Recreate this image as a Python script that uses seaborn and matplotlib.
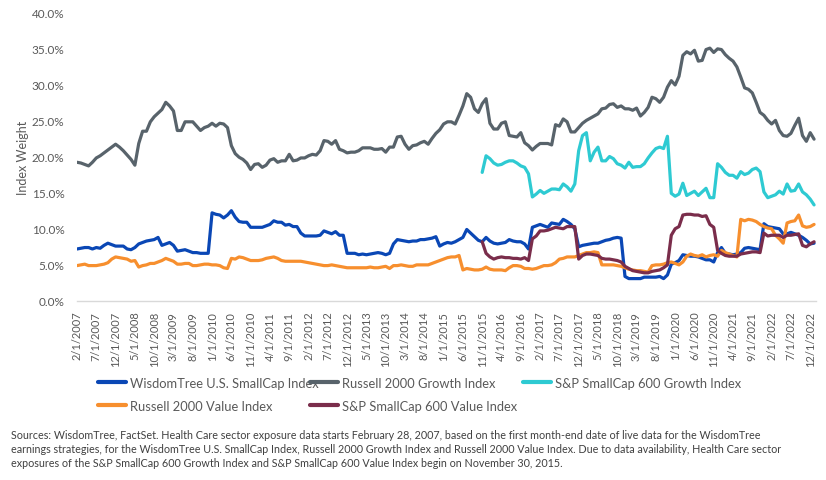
import numpy as np
import pandas as pd
import matplotlib
matplotlib.use("Agg")
import matplotlib.pyplot as plt
from matplotlib.lines import Line2D
import seaborn as sns

# ---------------- data (monthly, 2/2007 .. 1/2023) ----------------
months = pd.date_range("2007-02-01", periods=192, freq="MS")

wisdomtree = [
    7.2, 7.3, 7.4, 7.4, 7.2, 7.4, 7.3, 7.7, 8.0, 7.8,
    7.6, 7.6, 7.6, 7.2, 7.1, 7.4, 7.9, 8.1, 8.3, 8.4,
    8.5, 8.8, 7.7, 7.9, 8.1, 7.7, 6.9, 7.0, 7.1, 6.9,
    6.7, 6.7, 6.6, 6.6, 6.6, 12.2, 12.0, 11.9, 11.5, 11.9,
    12.5, 11.6, 11.0, 10.9, 10.9, 10.2, 10.2, 10.2, 10.2, 10.4,
    10.6, 11.1, 10.9, 10.9, 10.5, 10.6, 10.3, 10.3, 9.4, 9.0,
    9.0, 9.0, 9.0, 9.1, 9.7, 9.5, 9.3, 9.6, 9.1, 9.1,
    6.6, 6.6, 6.6, 6.4, 6.5, 6.4, 6.5, 6.6, 6.7, 6.6,
    6.4, 6.6, 7.9, 8.5, 8.4, 8.3, 8.2, 8.3, 8.3, 8.5,
    8.5, 8.6, 8.7, 8.9, 7.6, 7.9, 8.1, 8.0, 8.2, 8.5,
    8.8, 9.9, 9.4, 8.9, 8.4, 8.2, 8.8, 8.3, 8.0, 7.9,
    8.0, 8.1, 8.5, 8.3, 8.2, 8.2, 7.9, 7.2, 10.2, 10.4,
    10.6, 10.4, 10.2, 10.8, 10.7, 10.6, 11.3, 11.0, 10.6, 10.0,
    7.5, 7.7, 7.8, 7.9, 8.0, 8.0, 8.2, 8.4, 8.5, 8.7,
    8.8, 8.7, 3.4, 3.1, 3.1, 3.1, 3.1, 3.3, 3.3, 3.3,
    3.3, 3.4, 3.1, 3.6, 5.1, 5.3, 5.6, 6.4, 6.3, 6.2,
    6.2, 6.1, 5.9, 5.7, 5.7, 5.4, 6.7, 7.4, 6.6, 6.5,
    6.4, 6.5, 6.7, 7.3, 7.4, 7.3, 7.2, 7.1, 10.7, 10.3,
    10.2, 10.1, 10.0, 9.3, 9.3, 9.5, 9.3, 9.1, 8.8, 8.4,
    7.9, 8.0,
]

russell_growth = [
    19.2, 19.1, 18.9, 18.7, 19.2, 19.8, 20.1, 20.5, 20.9, 21.3,
    21.7, 21.3, 20.8, 20.2, 19.6, 18.8, 21.8, 23.5, 23.5, 24.8,
    25.5, 26.0, 26.5, 27.5, 27.0, 26.3, 23.6, 23.6, 24.8, 24.8,
    24.8, 24.2, 23.6, 24.0, 24.2, 24.6, 24.2, 24.6, 24.5, 24.0,
    21.5, 20.4, 19.9, 19.6, 19.1, 18.2, 18.9, 19.0, 18.5, 18.8,
    19.5, 19.7, 19.2, 19.4, 19.4, 20.3, 19.4, 19.5, 19.8, 19.8,
    20.1, 20.3, 20.2, 20.8, 22.2, 22.1, 21.7, 22.2, 21.0, 20.8,
    20.5, 20.6, 20.6, 20.8, 21.2, 21.2, 21.2, 21.0, 21.0, 21.1,
    20.6, 21.3, 21.3, 22.7, 22.8, 21.7, 21.0, 21.5, 21.6, 21.9,
    22.1, 21.7, 22.5, 23.2, 23.7, 24.5, 24.8, 24.8, 24.5, 25.7,
    27.0, 28.7, 28.2, 26.6, 26.1, 27.3, 28.0, 24.6, 23.8, 23.8,
    24.6, 24.8, 22.9, 22.8, 22.7, 23.3, 21.9, 21.5, 20.9, 21.4,
    21.8, 21.8, 21.8, 21.6, 24.4, 24.2, 25.2, 24.8, 23.4, 23.4,
    24.0, 24.6, 25.0, 25.3, 25.6, 25.9, 26.6, 26.7, 27.2, 27.3,
    26.8, 27.0, 26.6, 26.6, 26.4, 26.7, 25.6, 26.1, 26.8, 28.2,
    28.0, 27.5, 28.2, 29.6, 30.5, 29.9, 31.1, 34.0, 34.5, 34.2,
    34.7, 33.2, 33.3, 34.8, 35.0, 34.4, 34.9, 34.8, 34.1, 33.6,
    33.2, 32.4, 31.0, 29.5, 29.3, 28.8, 27.5, 26.1, 25.7, 25.0,
    24.5, 25.0, 23.6, 22.9, 22.8, 23.2, 24.3, 25.3, 22.9, 22.1,
    23.3, 22.4,
]

sp600_growth_from_nov2015 = [
    17.8, 20.1, 19.7, 19.1, 18.8, 18.9, 19.2, 19.4, 19.4, 19.1,
    18.7, 18.5, 17.6, 14.4, 14.8, 15.3, 14.9, 15.2, 15.5, 15.5,
    15.4, 16.2, 15.8, 15.2, 16.2, 20.8, 22.9, 23.3, 19.4, 20.6,
    21.3, 19.4, 19.4, 20.0, 19.7, 19.0, 18.8, 18.4, 19.2, 18.5,
    18.6, 18.6, 19.0, 19.8, 20.5, 21.1, 21.3, 21.1, 22.8, 14.9,
    14.5, 14.8, 16.3, 14.6, 14.9, 15.2, 14.6, 15.1, 15.6, 14.3,
    14.3, 19.0, 18.5, 17.8, 17.4, 17.4, 17.0, 17.9, 17.5, 17.7,
    18.2, 18.4, 17.9, 15.1, 14.3, 14.5, 14.7, 15.2, 14.8, 16.2,
    15.2, 15.3, 16.2, 15.1, 14.7, 14.1, 13.3,
]

russell_value = [
    4.9, 5.0, 5.1, 4.9, 4.9, 4.9, 5.0, 5.1, 5.3, 5.8,
    6.1, 6.0, 5.9, 5.8, 5.5, 5.6, 4.7, 4.9, 5.0, 5.2,
    5.2, 5.4, 5.6, 5.9, 5.7, 5.5, 5.1, 5.1, 5.2, 5.2,
    4.9, 4.9, 5.0, 5.1, 5.1, 5.0, 5.0, 4.9, 4.6, 4.5,
    5.9, 5.8, 6.1, 6.0, 5.8, 5.6, 5.6, 5.6, 5.7, 5.9,
    6.0, 6.1, 5.9, 5.6, 5.5, 5.5, 5.5, 5.5, 5.5, 5.4,
    5.3, 5.2, 5.1, 5.0, 4.9, 4.9, 5.0, 4.9, 4.8, 4.7,
    4.6, 4.6, 4.6, 4.6, 4.6, 4.6, 4.7, 4.6, 4.6, 4.7,
    4.8, 4.5, 4.9, 4.9, 5.0, 4.9, 4.8, 4.8, 5.0, 5.0,
    5.0, 5.0, 5.2, 5.4, 5.6, 5.8, 6.0, 6.1, 6.1, 6.3,
    4.3, 4.5, 4.4, 4.3, 4.3, 4.4, 4.7, 4.4, 4.3, 4.3,
    4.3, 4.2, 4.6, 4.9, 4.9, 4.8, 4.5, 4.5, 4.4, 4.5,
    4.7, 4.9, 4.9, 5.0, 5.3, 5.8, 5.9, 6.1, 6.1, 6.1,
    6.3, 6.5, 6.7, 6.7, 6.8, 6.7, 5.0, 5.0, 5.0, 5.0,
    4.9, 4.8, 4.6, 4.4, 4.3, 4.2, 4.2, 4.1, 4.0, 4.9,
    5.0, 5.0, 5.1, 5.3, 5.4, 5.2, 5.0, 5.4, 6.2, 6.5,
    6.3, 6.2, 6.4, 6.1, 6.3, 6.4, 6.2, 7.0, 6.7, 6.5,
    6.3, 6.1, 11.3, 11.1, 11.3, 11.2, 11.0, 10.6, 10.3, 10.1,
    10.0, 9.1, 8.6, 8.0, 10.8, 11.0, 11.1, 11.9, 10.4, 10.2,
    10.3, 10.6,
]

sp600_value_from_nov2015 = [
    8.2, 6.6, 6.1, 5.8, 6.0, 6.1, 6.0, 6.0, 5.9, 5.9,
    5.8, 6.0, 5.6, 8.6, 9.0, 9.7, 9.7, 9.8, 10.0, 10.2,
    10.1, 10.0, 10.3, 10.3, 10.3, 5.8, 6.3, 6.5, 6.5, 6.4,
    6.3, 5.9, 5.8, 5.8, 5.7, 5.6, 5.4, 4.8, 4.5, 4.2,
    4.1, 4.0, 3.9, 3.9, 4.1, 4.2, 4.3, 4.6, 5.0, 9.1,
    10.0, 10.3, 11.9, 12.0, 12.0, 11.9, 11.9, 11.7, 11.8, 10.6,
    10.2, 7.0, 6.6, 6.3, 6.2, 6.2, 6.2, 6.5, 6.6, 6.7,
    6.8, 6.8, 6.7, 9.4, 9.0, 9.1, 9.1, 9.1, 8.8, 9.1,
    9.1, 9.2, 9.3, 7.7, 7.5, 7.9, 8.2,
]

series_names = [
    "WisdomTree U.S. SmallCap Index",
    "Russell 2000 Growth Index",
    "S&P SmallCap 600 Growth Index",
    "Russell 2000 Value Index",
    "S&P SmallCap 600 Value Index",
]
colors = ["#0A47B5", "#58636B", "#2ECAD2", "#F78F2E", "#7A2D4B"]

n = len(months)
pad = [np.nan] * (n - len(sp600_growth_from_nov2015))
values = [
    wisdomtree,
    russell_growth,
    pad + sp600_growth_from_nov2015,
    russell_value,
    pad + sp600_value_from_nov2015,
]

frames = []
for name, vals in zip(series_names, values):
    frames.append(pd.DataFrame({"idx": np.arange(n), "value": vals, "series": name}))
df = pd.concat(frames, ignore_index=True).dropna()

tick_idx = list(range(0, n, 5))
tick_labels = [f"{months[i].month}/1/{months[i].year}" for i in tick_idx]

# ---------------- plot ----------------
sns.set_theme(style="white")
plt.rcParams["font.family"] = ["Lato", "DejaVu Sans"]

fig = plt.figure(figsize=(8.26, 4.81), dpi=100)
ax = fig.add_axes([77 / 826, (481 - 302) / 481, (816 - 77) / 826, (302 - 13) / 481])

palette = dict(zip(series_names, colors))
sns.lineplot(data=df, x="idx", y="value", hue="series", hue_order=series_names,
             palette=palette, linewidth=2.3, legend=False, ax=ax, estimator=None)

ax.set_xlim(0, 191.5)
ax.set_ylim(0, 40)
ax.set_yticks(np.arange(0, 41, 5))
ax.set_yticklabels([f"{v:.1f}%" for v in np.arange(0, 41, 5)], fontsize=8.5, color="#595959")
ax.set_xticks(tick_idx)
ax.set_xticklabels(tick_labels, rotation=90, fontsize=8, color="#595959")
ax.tick_params(axis="y", length=0, pad=9)
ax.tick_params(axis="x", length=4, width=0.8, color="#D9D9D9", pad=3, direction="out")
ax.set_xlabel("")
ax.set_ylabel("Index Weight", fontsize=9, color="#595959", labelpad=2)
for s in ["top", "right", "left"]:
    ax.spines[s].set_visible(False)
ax.spines["bottom"].set_color("#D9D9D9")
ax.spines["bottom"].set_linewidth(1)
ax.grid(False)

# legend: three columns placed like the reference
cols = [[0, 3], [1, 4], [2]]
xs = [98, 310, 523]
for col, x in zip(cols, xs):
    handles = [Line2D([0], [0], color=colors[k], lw=3) for k in col]
    labels = [series_names[k] for k in col]
    fig.legend(handles, labels, loc="upper left", bbox_to_anchor=(x / 826, (481 - 378) / 481),
               frameon=False, fontsize=9.3, handlelength=2.2, handletextpad=0.25,
               borderpad=0, borderaxespad=0, labelspacing=0.85, labelcolor="#595959")

source = ("Sources: WisdomTree, FactSet. Health Care sector exposure data starts February 28, 2007, based on the first month-end date of live data for the WisdomTree\n"
          "earnings strategies, for the WisdomTree U.S. SmallCap Index, Russell 2000 Growth Index and Russell 2000 Value Index. Due to data availability, Health Care sector\n"
          "exposures of the S&P SmallCap 600 Growth Index and S&P SmallCap 600 Value Index begin on November 30, 2015.")
fig.text(11 / 826, (481 - 430) / 481, source, ha="left", va="top", fontsize=7.75,
         color="#404040", linespacing=1.35)

fig.savefig("out.png", dpi=100)
